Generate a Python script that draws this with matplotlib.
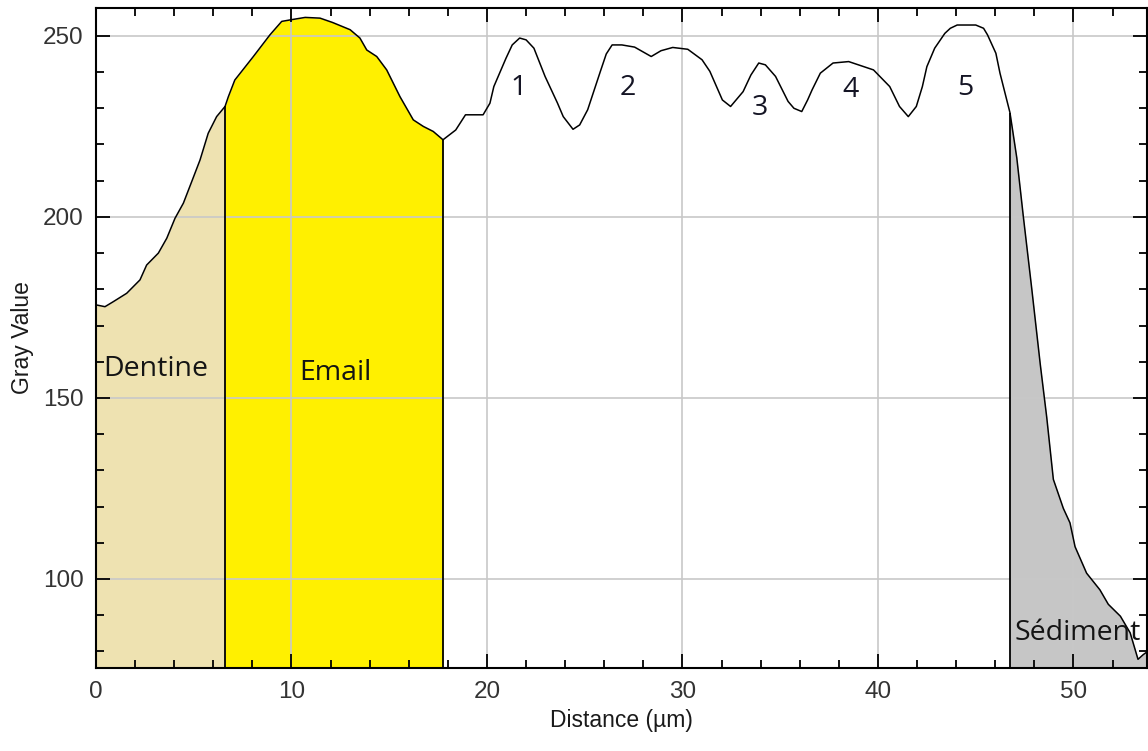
import matplotlib.pyplot as plt
import numpy as np

# Profil de niveau de gris le long de la ligne de mesure
distance = [0.0, 0.46, 0.89, 1.57, 2.25, 2.59, 3.19, 3.62, 4.04, 4.47, 4.9, 5.32, 5.74, 6.17, 6.6,
            6.77, 7.1, 8.05, 8.9, 9.5, 9.92, 10.7, 11.46, 12.1, 13.0, 13.5, 13.85, 14.36, 14.87, 15.55,
            16.23, 16.74, 17.25, 17.75,
            18.4, 18.9, 19.1, 19.8, 20.15, 20.35, 20.97, 21.29, 21.67, 22.0, 22.4, 22.97, 23.6, 23.9,
            24.4, 24.74, 25.15, 25.8, 26.1, 26.4, 26.9, 27.55, 28.4, 28.9, 29.5, 30.27, 31.0, 31.4,
            32.04, 32.46, 33.1, 33.5, 33.9, 34.24, 34.76, 35.4, 35.7, 36.1, 36.4, 36.63, 37.05,
            37.7, 38.5, 39.77, 40.6, 41.1, 41.55, 41.96, 42.27, 42.5, 42.9, 43.42, 43.7, 44.05,
            45.0, 45.4, 45.6, 46.03, 46.24, 46.75,
            47.1, 47.43, 47.86, 48.3, 48.63, 48.97, 49.48, 49.82, 50.08, 50.67, 51.35, 51.78,
            52.4, 52.9, 53.3, 53.57, 53.75]
gris = [175.7, 175.2, 176.6, 178.9, 182.6, 186.7, 190.0, 194.1, 199.6, 203.8, 209.8, 215.7, 223.1, 227.7, 230.5,
        233.2, 237.8, 244.3, 250.3, 254.0, 254.4, 255.1, 254.9, 253.7, 251.7, 249.4, 246.1, 244.3, 240.6, 233.2,
        226.8, 225.0, 223.6, 221.3,
        224.0, 228.2, 228.2, 228.2, 231.4, 236.0, 243.8, 247.5, 249.4, 248.9, 246.6, 238.8, 231.5, 227.7,
        224.2, 225.4, 229.6, 240.2, 245.0, 247.5, 247.5, 246.9, 244.3, 245.9, 246.8, 246.3, 243.4, 240.2,
        232.3, 230.5, 234.6, 239.2, 242.5, 242.0, 238.8, 231.9, 230.0, 229.1, 232.3, 235.1, 239.7,
        242.5, 242.9, 240.6, 236.0, 230.5, 227.7, 230.5, 236.0, 241.5, 246.6, 250.7, 252.1, 253.0,
        253.0, 252.1, 250.3, 245.2, 239.7, 228.8,
        216.3, 200.3, 180.4, 159.3, 144.7, 127.5, 119.5, 115.5, 108.9, 101.6, 97.0, 93.0,
        89.7, 85.1, 77.8, 79.1, 79.8]

# Limites des zones
lim_dentine = 6.6
lim_email = 17.75
lim_sediment = 46.75

# Etiquettes
zones = ['Dentine', 'Email', 'Sédiment']
zones_x = [0.35, 10.4, 47.0]
zones_y = [158, 157, 85]
pics = ['1', '2', '3', '4', '5']
pics_x = [21.6, 27.2, 33.96, 38.6, 44.45]
pics_y = [235.6, 235.6, 230.1, 235.0, 235.6]

x = np.array(distance)
y = np.array(gris)
ymin, ymax = 75.4, 257.7

fig = plt.figure(figsize=(11.48, 7.51), dpi=100)
ax = fig.add_axes([96/1148, 83/751, 1051/1148, 660/751])

ax.fill_between(x, ymin, y, where=x <= lim_dentine, color='#EEE2B1', lw=0)
ax.fill_between(x, ymin, y, where=(x >= lim_dentine) & (x <= lim_email), color='#FFF000', lw=0)
ax.fill_between(x, ymin, y, where=x >= lim_sediment, color='#C6C6C6', lw=0)

for b in [lim_dentine, lim_email, lim_sediment]:
    ax.vlines(b, ymin, y[x == b][0], color='black', lw=1.3, zorder=3)

ax.plot(x, y, color='black', lw=1.1, zorder=4)

police = ['Open Sans', 'DejaVu Sans']
for t, tx, ty in zip(zones, zones_x, zones_y):
    ax.text(tx, ty, t, fontsize=20.5, family=police, color='#141414', va='center', ha='left', zorder=5)
for t, tx, ty in zip(pics, pics_x, pics_y):
    ax.text(tx, ty, t, fontsize=20.5, family=police, color='#141424', va='center', ha='center', zorder=5)

ax.set_xlim(0, 53.76)
ax.set_ylim(ymin, ymax)
ax.set_xticks([0, 10, 20, 30, 40, 50])
ax.set_xticks(np.arange(0, 54, 2), minor=True)
ax.set_yticks([100, 150, 200, 250])
ax.set_yticks(np.arange(80, 258, 10), minor=True)
ax.grid(True, which='major', color='#c8c8c8', lw=1.2, zorder=0)
ax.set_axisbelow(False)
for g in ax.get_xgridlines() + ax.get_ygridlines():
    g.set_zorder(2)
ax.tick_params(which='both', direction='in', top=True, right=True, colors='black',
               labelcolor='#333333', labelsize=17.5, width=1.3)
ax.tick_params(which='major', length=10, pad=9)
ax.tick_params(which='minor', length=6)
for s in ax.spines.values():
    s.set_linewidth(1.5)
    s.set_zorder(6)
for lab in ax.get_xticklabels() + ax.get_yticklabels():
    lab.set_family(['Liberation Sans', 'DejaVu Sans'])

ax.set_xlabel('Distance (µm)', fontsize=16.5, color='#1a1a1a', family=['Liberation Sans', 'DejaVu Sans'], labelpad=5)
ax.set_ylabel('Gray Value', fontsize=16.5, color='#1a1a1a', family=['Liberation Sans', 'DejaVu Sans'], labelpad=6)

fig.savefig('out.png', dpi=100)
